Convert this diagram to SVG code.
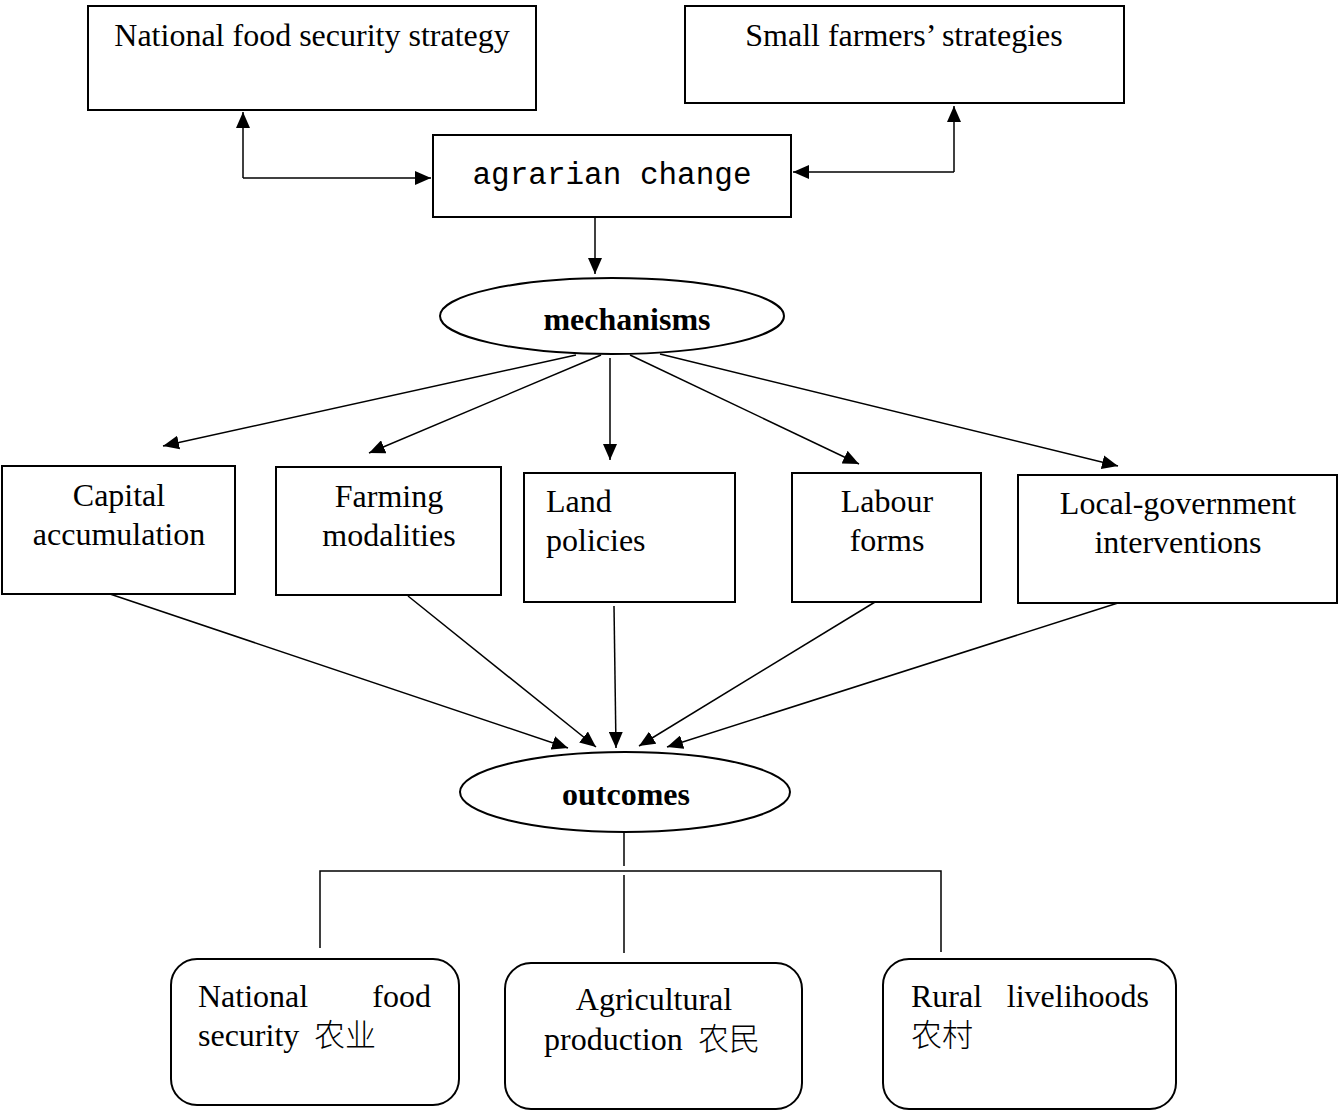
<svg xmlns="http://www.w3.org/2000/svg" width="1338" height="1111" viewBox="0 0 1338 1111">
  <defs>
    <marker id="arrow" markerUnits="userSpaceOnUse" markerWidth="16" markerHeight="14" refX="16" refY="7" orient="auto">
      <path d="M0,0 L16,7 L0,14 z" fill="#000"/>
    </marker>
  </defs>
  <style>
    .box { fill: #fff; stroke: #000; stroke-width: 2; }
    .link { fill: none; stroke: #000; stroke-width: 1.5; }
    .arr { marker-end: url(#arrow); }
    .t { font-family: "Liberation Serif", "Times New Roman", "Noto Sans CJK SC", serif; font-size: 32px; fill: #000; }
    .c { text-anchor: middle; }
    .b { font-weight: bold; }
    .cjk { font-family: "Noto Sans CJK SC", sans-serif; font-weight: 300; font-size: 31px; }
    .mono { font-family: "Liberation Mono", "Courier New", monospace; font-size: 31px; fill: #000; }
  </style>
  <rect width="1338" height="1111" fill="#fff"/>

  <!-- connectors -->
  <g id="connectors">
    <polyline class="link arr" points="243,178 243,112"/>
    <polyline class="link arr" points="243,178 431,178"/>
    <polyline class="link arr" points="954,172 954,106"/>
    <polyline class="link arr" points="954,172 793,172"/>
    <line class="link arr" x1="595" y1="217" x2="595" y2="274"/>

    <line class="link arr" x1="576" y1="355" x2="163" y2="446"/>
    <line class="link arr" x1="601" y1="355" x2="369" y2="453"/>
    <line class="link arr" x1="610" y1="358" x2="610" y2="460"/>
    <line class="link arr" x1="630" y1="355" x2="859" y2="464"/>
    <line class="link arr" x1="660" y1="354" x2="1118" y2="466"/>

    <line class="link arr" x1="104" y1="592" x2="568" y2="748"/>
    <line class="link arr" x1="408" y1="596" x2="596" y2="747"/>
    <line class="link arr" x1="614" y1="606" x2="616" y2="748"/>
    <line class="link arr" x1="875" y1="602" x2="639" y2="746"/>
    <line class="link arr" x1="1121" y1="602" x2="667" y2="747"/>

    <line class="link" x1="624" y1="833" x2="624" y2="866"/>
    <polyline class="link" stroke-width="2" points="320,948 320,871 941,871 941,952"/>
    <line class="link" x1="624" y1="875" x2="624" y2="953"/>
  </g>

  <!-- top row -->
  <g id="national-strategy">
    <rect class="box" x="88" y="6" width="448" height="104"/>
    <text class="t c" x="312" y="46">National food security strategy</text>
  </g>
  <g id="farmers-strategies">
    <rect class="box" x="685" y="6" width="439" height="97"/>
    <text class="t c" x="904" y="46">Small farmers’ strategies</text>
  </g>
  <g id="agrarian-change">
    <rect class="box" x="433" y="135" width="358" height="82"/>
    <text class="mono c" x="612" y="184">agrarian change</text>
  </g>

  <g id="mechanisms">
    <ellipse class="box" cx="612" cy="316" rx="172" ry="38"/>
    <text class="t c b" x="627" y="330">mechanisms</text>
  </g>

  <!-- mechanism boxes -->
  <g id="capital">
    <rect class="box" x="2" y="466" width="233" height="128"/>
    <text class="t c" x="119" y="506">Capital</text>
    <text class="t c" x="119" y="545">accumulation</text>
  </g>
  <g id="farming">
    <rect class="box" x="276" y="467" width="225" height="128"/>
    <text class="t c" x="389" y="507">Farming</text>
    <text class="t c" x="389" y="546">modalities</text>
  </g>
  <g id="land">
    <rect class="box" x="524" y="473" width="211" height="129"/>
    <text class="t" x="546" y="512">Land</text>
    <text class="t" x="546" y="551">policies</text>
  </g>
  <g id="labour">
    <rect class="box" x="792" y="473" width="189" height="129"/>
    <text class="t c" x="887" y="512">Labour</text>
    <text class="t c" x="887" y="551">forms</text>
  </g>
  <g id="local-government">
    <rect class="box" x="1018" y="475" width="319" height="128"/>
    <text class="t c" x="1178" y="514">Local-government</text>
    <text class="t c" x="1178" y="553">interventions</text>
  </g>

  <g id="outcomes">
    <ellipse class="box" cx="625" cy="792" rx="165" ry="40"/>
    <text class="t c b" x="626" y="805">outcomes</text>
  </g>

  <!-- outcome boxes -->
  <g id="food-security">
    <rect class="box" x="171" y="959" width="288" height="146" rx="26"/>
    <text class="t" x="198" y="1007">National</text>
    <text class="t" x="431" y="1007" text-anchor="end">food</text>
    <text class="t" x="198" y="1046">security <tspan class="cjk" x="314">农业</tspan></text>
  </g>
  <g id="agricultural-production">
    <rect class="box" x="505" y="963" width="297" height="146" rx="26"/>
    <text class="t c" x="654" y="1010">Agricultural</text>
    <text class="t" x="544" y="1050">production <tspan class="cjk" x="698">农民</tspan></text>
  </g>
  <g id="rural-livelihoods">
    <rect class="box" x="883" y="959" width="293" height="150" rx="26"/>
    <text class="t" x="911" y="1007">Rural</text>
    <text class="t" x="1149" y="1007" text-anchor="end">livelihoods</text>
    <text class="t" x="911" y="1046"><tspan class="cjk">农村</tspan></text>
  </g>
</svg>
